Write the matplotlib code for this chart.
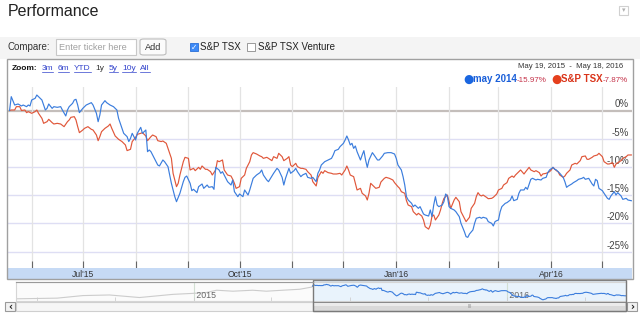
import numpy as np
import pandas as pd
import matplotlib
matplotlib.use("Agg")
import matplotlib.pyplot as plt
import matplotlib.dates as mdates
import matplotlib.transforms as mtransforms
from matplotlib.patches import Rectangle, FancyBboxPatch
from matplotlib.lines import Line2D

plt.rcParams['font.family'] = ['Liberation Sans', 'DejaVu Sans']

W, H = 640, 323

first_day = np.datetime64('2015-05-19')
last_day = np.datetime64('2016-05-18')

# portfolio "may 2014": calendar days after first_day and % change since first_day
blue_day = [0, 1, 3, 5, 7, 8, 10, 11, 12, 13,
            15, 16, 18, 19, 21, 22, 23, 25, 26, 28,
            30, 31, 33, 34, 35, 37, 38, 39, 40, 41,
            43, 45, 48, 49, 51, 52, 53, 54, 56, 57,
            59, 61, 63, 64, 66, 67, 69, 70, 71, 72,
            74, 75, 77, 78, 80, 81, 82, 83, 85, 87,
            88, 90, 91, 93, 95, 97, 98, 100, 102, 103,
            104, 106, 107, 108, 110, 111, 113, 114, 116, 117,
            119, 120, 121, 123, 124, 125, 127, 128, 130, 131,
            132, 134, 135, 137, 138, 140, 141, 143, 145, 147,
            148, 149, 151, 152, 154, 155, 157, 158, 160, 161,
            162, 164, 165, 167, 168, 169, 171, 172, 174, 175,
            177, 178, 180, 181, 182, 183, 185, 187, 189, 190,
            191, 193, 194, 196, 197, 198, 199, 200, 201, 202,
            203, 204, 206, 207, 208, 209, 210, 211, 213, 214,
            216, 217, 219, 220, 222, 224, 226, 227, 228, 230,
            231, 232, 233, 234, 236, 237, 238, 240, 241, 243,
            244, 246, 247, 248, 249, 250, 251, 252, 254, 255,
            256, 257, 258, 259, 261, 262, 264, 265, 267, 268,
            269, 270, 272, 273, 274, 276, 277, 278, 280, 281,
            283, 284, 285, 286, 287, 288, 289, 291, 292, 294,
            295, 296, 298, 299, 300, 302, 303, 304, 306, 307,
            309, 310, 312, 313, 315, 316, 317, 319, 320, 321,
            323, 325, 326, 327, 328, 330, 331, 333, 334, 336,
            337, 338, 340, 342, 343, 344, 345, 346, 348, 349,
            351, 352, 353, 355, 356, 357, 359, 360, 362, 363, 365]
blue_pct = [0.00, 2.45, 0.97, 1.15, 0.80, 0.97, 0.68, 0.97, 0.80, 1.86,
            2.15, 2.74, 2.15, 1.86, 0.09, 0.38, 1.15, 0.38, 0.68, 0.56,
            0.68, 0.09, -0.97, 0.09, 0.68, 1.27, 1.86, 1.98, 0.97, -0.38,
            0.38, 0.97, 1.39, 0.97, -0.50, -1.98, -0.80, 0.97, 1.74, 1.39,
            0.97, 0.68, 0.09, -1.39, -3.16, -4.04, -4.63, -5.50, -4.93, -4.04,
            -5.22, -4.04, -2.98, -4.04, -3.45, -7.29, -6.99, -7.29, -8.47, -9.65,
            -9.82, -8.76, -9.06, -9.94, -12.89, -15.25, -16.14, -14.66, -12.60, -11.83,
            -11.60, -12.89, -14.19, -13.95, -14.54, -13.48, -13.01, -13.78, -13.19, -13.60,
            -13.48, -13.95, -10.06, -10.53, -11.12, -10.83, -12.01, -12.60, -13.19, -12.30,
            -14.37, -15.25, -14.78, -15.25, -14.07, -14.96, -14.07, -12.01, -11.42, -11.00,
            -10.53, -11.42, -12.30, -12.60, -11.60, -11.12, -10.24, -10.53, -11.83, -13.19,
            -12.01, -10.24, -11.12, -10.65, -10.24, -10.83, -11.71, -11.42, -11.12, -11.83,
            -12.01, -11.83, -12.60, -11.12, -10.53, -9.65, -9.06, -8.76, -8.47, -7.88,
            -7.11, -6.87, -6.40, -5.81, -5.22, -4.51, -5.22, -6.10, -5.81, -6.70,
            -6.28, -7.29, -8.76, -7.88, -7.11, -8.76, -10.06, -8.76, -7.46, -7.88,
            -8.76, -8.76, -8.05, -7.58, -7.46, -7.46, -7.70, -8.47, -9.65, -10.53,
            -11.71, -13.19, -15.25, -15.84, -16.43, -17.02, -16.73, -17.32, -17.02, -18.32,
            -18.50, -18.68, -17.61, -18.79, -16.73, -15.25, -16.73, -17.02, -16.73, -16.14,
            -14.78, -15.13, -17.02, -17.32, -17.61, -17.91, -18.79, -19.97, -21.45, -22.33,
            -22.45, -21.86, -21.15, -19.97, -19.08, -18.90, -19.08, -18.90, -19.08, -19.67,
            -19.97, -20.44, -19.67, -19.50, -19.38, -17.91, -17.02, -16.43, -16.31, -15.84,
            -15.13, -15.96, -15.73, -14.66, -14.07, -14.07, -13.60, -13.95, -12.18, -12.00,
            -12.30, -12.18, -12.30, -12.01, -11.83, -11.00, -10.53, -10.06, -10.41, -10.53,
            -11.12, -11.83, -12.60, -13.60, -13.36, -13.01, -12.77, -12.42, -12.18, -12.01,
            -11.83, -12.18, -12.01, -13.01, -13.36, -12.18, -12.42, -13.78, -14.19, -14.66,
            -15.55, -15.73, -15.13, -14.37, -14.96, -14.54, -15.13, -15.73, -15.55, -15.84, -15.97]

# S&P TSX index, same layout
red_day = [0, 1, 3, 4, 6, 7, 9, 10, 11, 13,
           15, 16, 17, 19, 20, 22, 23, 25, 26, 28,
           30, 32, 34, 35, 36, 38, 39, 40, 41, 43,
           44, 46, 48, 49, 51, 52, 53, 54, 56, 58,
           59, 60, 62, 64, 66, 68, 69, 71, 72, 74,
           75, 77, 78, 80, 81, 83, 84, 86, 87, 89,
           90, 92, 93, 95, 96, 98, 99, 100, 102, 103,
           105, 106, 108, 109, 111, 112, 113, 115, 116, 118,
           119, 121, 122, 123, 125, 126, 128, 130, 131, 132,
           133, 135, 136, 138, 139, 141, 142, 143, 145, 147,
           148, 149, 151, 152, 154, 155, 157, 158, 160, 161,
           163, 164, 165, 166, 168, 169, 171, 172, 174, 175,
           177, 178, 180, 181, 183, 184, 185, 187, 189, 190,
           192, 194, 195, 197, 198, 199, 200, 202, 203, 204,
           206, 207, 209, 210, 211, 212, 214, 215, 217, 218,
           220, 221, 223, 225, 226, 228, 229, 230, 232, 233,
           234, 236, 237, 239, 240, 242, 243, 244, 246, 247,
           248, 249, 250, 252, 253, 254, 255, 256, 257, 258,
           259, 261, 262, 264, 265, 267, 268, 270, 271, 273,
           274, 275, 276, 277, 278, 280, 281, 283, 284, 286,
           287, 289, 290, 292, 293, 295, 296, 297, 299, 300,
           302, 303, 305, 306, 308, 309, 311, 312, 313, 315,
           317, 318, 319, 321, 322, 323, 325, 326, 327, 329,
           330, 332, 333, 335, 336, 338, 339, 340, 342, 343,
           345, 346, 348, 349, 351, 352, 354, 355, 356, 358,
           359, 360, 362, 363, 365]
red_pct = [0.00, 0.09, 0.09, 0.68, 0.68, 0.00, 0.09, -0.38, -0.20, -0.50,
           -0.20, 0.09, -0.50, -1.39, -2.27, -1.98, -1.56, -2.15, -2.39, -2.27,
           -2.39, -2.86, -1.98, -1.68, -1.21, -1.09, -1.68, -2.86, -3.92, -3.45,
           -3.16, -2.86, -3.33, -3.45, -4.34, -5.34, -4.63, -3.75, -3.16, -2.74,
           -2.39, -3.16, -4.51, -5.10, -5.50, -6.10, -7.10, -6.87, -5.50, -4.75,
           -4.22, -4.04, -3.92, -4.51, -5.34, -4.63, -4.34, -4.63, -5.34, -5.50,
           -5.40, -5.81, -6.70, -8.47, -11.12, -13.48, -12.89, -11.42, -9.06, -8.29,
           -8.47, -10.53, -10.24, -10.65, -10.06, -10.41, -9.82, -10.41, -10.41, -10.83,
           -11.42, -10.53, -8.88, -9.06, -8.76, -10.53, -11.42, -11.60, -12.18, -12.89,
           -13.78, -13.48, -12.01, -11.42, -10.24, -9.06, -7.88, -7.46, -7.70, -8.05,
           -8.17, -8.47, -8.29, -8.47, -8.88, -8.17, -8.47, -7.58, -8.17, -8.88,
           -8.47, -8.17, -9.65, -9.94, -9.35, -9.94, -10.24, -10.24, -10.41, -10.83,
           -11.42, -12.60, -13.36, -11.90, -10.83, -11.12, -10.65, -11.00, -11.12, -11.24,
           -11.24, -11.12, -11.42, -10.53, -9.82, -10.53, -11.42, -11.71, -12.89, -14.07,
           -13.78, -14.66, -15.13, -15.84, -14.66, -12.89, -13.48, -13.78, -13.60, -12.66,
           -12.01, -11.83, -12.01, -12.30, -12.77, -13.48, -13.78, -14.37, -14.66, -15.96,
           -16.73, -17.02, -17.91, -18.50, -18.20, -18.68, -19.38, -20.56, -21.00, -20.30,
           -18.68, -18.50, -19.38, -18.50, -17.61, -16.43, -15.55, -15.25, -14.96, -16.14,
           -17.32, -15.84, -15.37, -16.14, -17.91, -19.08, -19.67, -18.90, -17.32, -16.43,
           -15.25, -14.54, -14.96, -15.13, -14.96, -15.37, -15.61, -15.55, -15.37, -14.78,
           -14.07, -13.78, -13.19, -12.77, -12.01, -11.60, -11.83, -11.42, -10.83, -10.53,
           -11.24, -10.83, -10.06, -10.53, -10.83, -10.65, -11.00, -11.60, -11.24, -11.12,
           -10.83, -10.53, -10.06, -10.65, -10.83, -11.42, -11.83, -11.60, -11.12, -10.53,
           -9.65, -9.35, -9.47, -8.88, -8.17, -8.05, -8.64, -8.64, -8.29, -8.05,
           -7.88, -7.58, -8.17, -9.06, -9.47, -9.47, -9.23, -10.06, -9.47, -9.06,
           -8.88, -8.47, -8.17, -7.88, -7.87]

# earlier portfolio history shown in the navigator strip
hist_dates = ['2014-06-08', '2014-07-25', '2014-08-24', '2014-09-24', '2014-10-29',
              '2014-11-10', '2014-12-07', '2014-12-30', '2015-01-15', '2015-01-27',
              '2015-02-15', '2015-03-10', '2015-03-26', '2015-04-14', '2015-05-04',
              '2015-05-18', '2015-05-19']
hist_pct = [-20.9, -19.8, -15.6, -14.6, -18.8, -17.2, -13.6, -12.0, -10.5, -6.8,
            -8.4, -6.8, -8.4, -6.8, -5.2, -1.6, 0.0]

pct_ticks = [0, -5, -10, -15, -20, -25]
month_starts = pd.date_range('2015-06-01', '2016-05-01', freq='MS')
axis_labels = pd.to_datetime(['2015-07-01', '2015-10-01', '2016-01-01', '2016-04-01'])
nav_years = pd.to_datetime(['2015-01-01', '2016-01-01'])
nav_quarters = pd.date_range('2014-07-01', '2016-04-01', freq='QS')
zoom_links = ['3m', '6m', 'YTD', '1y', '5y', '10y', 'All']
series_names = ['may 2014', 'S&P TSX']
series_change = [-15.97, -7.87]

BLUE = '#3b7ddd'
RED = '#e0573a'

fig = plt.figure(figsize=(W / 100, H / 100), dpi=100)
fig.patch.set_facecolor('white')
renderer = fig.canvas.get_renderer()


def fx(x):
    return x / W


def fy(y):
    return 1 - y / H


def box(x0, y0, x1, y1):
    return [fx(x0), fy(y1), (x1 - x0) / W, (y1 - y0) / H]


def rect(x0, y0, x1, y1, **kw):
    r = Rectangle((fx(x0), fy(y1)), (x1 - x0) / W, (y1 - y0) / H,
                  transform=fig.transFigure, **kw)
    fig.add_artist(r)
    return r


def label(x, y, s, **kw):
    kw.setdefault('va', 'center')
    return fig.text(fx(x), fy(y), s, **kw)


def width_px(t):
    return t.get_window_extent(renderer).width


# ---- header
label(8, 11, 'Performance', fontsize=11.5, color='#222222')
rect(619, 6, 628, 15, facecolor='white', edgecolor='#d0d0d0', lw=0.8)
label(623.5, 10.5, '\u25be', fontsize=5, color='#b0b0b0', ha='center',
      family='DejaVu Sans')

# compare bar
rect(0, 37, 640, 59, facecolor='#f4f4f4', edgecolor='none', zorder=-5)
label(8, 47, 'Compare:', fontsize=7, color='#333333')
rect(56, 39, 136, 55, facecolor='white', edgecolor='#c8c8c8', lw=0.8)
label(59, 47, 'Enter ticker here', fontsize=6.6, color='#a0a0a0')
fig.add_artist(FancyBboxPatch((fx(140), fy(55)), 26 / W, 16 / H,
                              boxstyle='round,pad=0,rounding_size=0.006',
                              transform=fig.transFigure, facecolor='#fbfbfb',
                              edgecolor='#bdbdbd', lw=0.8))
label(153, 47, 'Add', fontsize=6.6, color='#333333', ha='center')
rect(190, 43, 198, 51, facecolor='#3d8af7', edgecolor='#2a6fd6', lw=0.6)
label(194, 47, '\u2713', fontsize=5.5, color='white', ha='center',
      family='DejaVu Sans', fontweight='bold')
label(200, 47, 'S&P TSX', fontsize=7, color='#222222')
rect(247, 43, 255, 51, facecolor='white', edgecolor='#8a8a8a', lw=0.6)
label(258, 47, 'S&P TSX Venture', fontsize=7, color='#222222')

# chart frame (outline only, drawn above the axes backgrounds)
rect(7, 59, 633, 279, facecolor='none', edgecolor='#a0a0a0', lw=1.0, zorder=5)

# zoom links
x = 12
t = label(x, 68, 'Zoom:', fontsize=6, fontweight='bold', color='#111111')
x += width_px(t) + 4
for name in zoom_links:
    active = name == '1y'
    t = label(x, 68, name, fontsize=6, color='#333333' if active else '#3344cc')
    w = width_px(t)
    if not active:
        fig.add_artist(Line2D([fx(x), fx(x + w)], [fy(72), fy(72)],
                              color='#3344cc', lw=0.5, transform=fig.transFigure))
    x += w + 4.5

label(623, 67, 'May 19, 2015  -  May 18, 2016', fontsize=5.6, color='#333333',
      ha='right')

# legend line with latest changes, right aligned
pieces = []
for name, change, dot, txt in zip(series_names, series_change,
                                  ['#1a66e0', '#e5401d'], ['#1a5fd9', '#d9341a']):
    pieces.append((label(0, 79.5, '\u25cf', fontsize=8.5, color=dot,
                         family='DejaVu Sans'), -0.5))
    pieces.append((label(0, 79, name, fontsize=7, fontweight='bold', color=txt), 0.5))
    pieces.append((label(0, 80, f'{change:.2f}%', fontsize=5.8, color='#c5334a'), 4))
widths = [width_px(t) + gap for t, gap in pieces]
x = 628 - (sum(widths) - pieces[-1][1])
for (t, gap), w in zip(pieces, widths):
    t.set_x(fx(x))
    x += w

# ---- main plot
d0 = mdates.date2num(first_day)
d1 = mdates.date2num(last_day)
ax = fig.add_axes(box(7, 87, 632, 268))
ax.set_xlim(d0 - 1.5, d1 + 0.4)
ax.set_ylim(-27.88, 4.16)
for s in ax.spines.values():
    s.set_visible(False)
ax.set_facecolor('white')

for v in pct_ticks[1:]:
    ax.axhline(v, color='#dedef4', lw=1.0, zorder=1)
ax.axhline(0, color='#c4bebb', lw=1.6, zorder=1)
for m in month_starts:
    ax.axvline(m, color='#e3e3e3', lw=0.9, zorder=1)

ax.set_xticks(mdates.date2num(month_starts))
ax.tick_params(axis='x', direction='in', length=5, width=0.8, color='#666666',
               labelbottom=False)
ax.set_yticks([])

ytrans = mtransforms.blended_transform_factory(ax.transAxes, ax.transData)
for v in pct_ticks:
    ax.text(0.9955, v + 0.2, f'{v}%', transform=ytrans, ha='right', va='bottom',
            fontsize=7, color='#444444', zorder=2)

red_dates = first_day + np.array(red_day).astype('timedelta64[D]')
blue_dates = first_day + np.array(blue_day).astype('timedelta64[D]')
ax.plot(red_dates, red_pct, color=RED, lw=0.85, zorder=3)
ax.plot(blue_dates, blue_pct, color=BLUE, lw=0.85, zorder=4)
ax.set_xlim(d0 - 1.5, d1 + 0.4)

# x axis band
band = fig.add_axes(box(7, 268, 632, 279))
band.set_facecolor('#c6daf5')
band.set_xlim(d0 - 1.5, d1 + 0.4)
band.set_ylim(0, 1)
band.set_xticks([])
band.set_yticks([])
for s in band.spines.values():
    s.set_visible(False)
btrans = mtransforms.blended_transform_factory(band.transData, band.transAxes)
for d in axis_labels:
    band.text(mdates.date2num(d), 0.45, d.strftime("%b'%y"), transform=btrans,
              ha='center', va='center', fontsize=6.2, color='#333333')

# ---- navigator
nav = fig.add_axes(box(16, 282, 626, 301))
n0 = mdates.date2num(np.datetime64('2014-06-07'))
nav.set_xlim(n0, d1 + 0.5)
nav.set_ylim(-24.5, 6.7)
nav.set_facecolor('#fbfbfb')
nav.axvspan(d0, d1 + 0.5, color='#e9f3fc', lw=0, zorder=0)
for d in nav_years:
    nav.axvline(d, color='#d3e0d3', lw=0.8, zorder=1)
ntrans = mtransforms.blended_transform_factory(nav.transData, nav.transAxes)
for d in nav_years:
    nav.text(mdates.date2num(d), 0.28, ' ' + d.strftime('%Y'), transform=ntrans,
             ha='left', va='center', fontsize=6.3, color='#666666')
nav.set_xticks(mdates.date2num(nav_quarters))
nav.tick_params(axis='x', direction='in', length=3, width=0.6, color='#cfcfcf',
                labelbottom=False)
nav.set_yticks([])
for s in nav.spines.values():
    s.set_color('#d6d6d6')
    s.set_linewidth(0.8)
nav.plot(pd.to_datetime(hist_dates), hist_pct, color='#cccccc', lw=0.8, zorder=2)
nav.plot(blue_dates, blue_pct, color=BLUE, lw=0.8, zorder=3)
nav.set_xlim(n0, d1 + 0.5)

# selection window follows the plotted date range
sel_x0 = nav.transData.transform((d0, 0))[0]
sel_x1 = nav.transData.transform((d1 + 0.5, 0))[0]

# scrollbar
rect(16, 302, 626, 311, facecolor='#f6f6f6', edgecolor='#cfcfcf', lw=0.8)
rect(sel_x0, 302, sel_x1, 311, facecolor='#d9d9d9', edgecolor='#8a8a8a', lw=0.8)
rect(sel_x0 + 1, 302.5, sel_x1 - 1, 306, facecolor='#ebebeb', edgecolor='none')
label((sel_x0 + sel_x1) / 2, 306.5, 'III', fontsize=4, color='#9a9a9a', ha='center')
rect(5, 302, 15, 311, facecolor='#f2f2f2', edgecolor='#9a9a9a', lw=0.8)
label(10, 306.5, '\u2039', fontsize=7, color='#222222', ha='center',
      fontweight='bold', family='DejaVu Sans')
rect(627, 302, 637, 311, facecolor='#f2f2f2', edgecolor='#9a9a9a', lw=0.8)
label(632, 306.5, '\u203a', fontsize=7, color='#222222', ha='center',
      fontweight='bold', family='DejaVu Sans')

rect(sel_x0, 279.5, sel_x1, 282, facecolor='#e9f3fc', edgecolor='none')
fig.add_artist(Line2D([fx(16), fx(sel_x0)], [fy(282), fy(282)],
                      color='#9a9a9a', lw=0.8, transform=fig.transFigure))
rect(sel_x0, 279.5, sel_x1, 311, facecolor='none', edgecolor='#7a7a7a', lw=1.0)

fig.savefig('out.png', dpi=100, facecolor='white')
